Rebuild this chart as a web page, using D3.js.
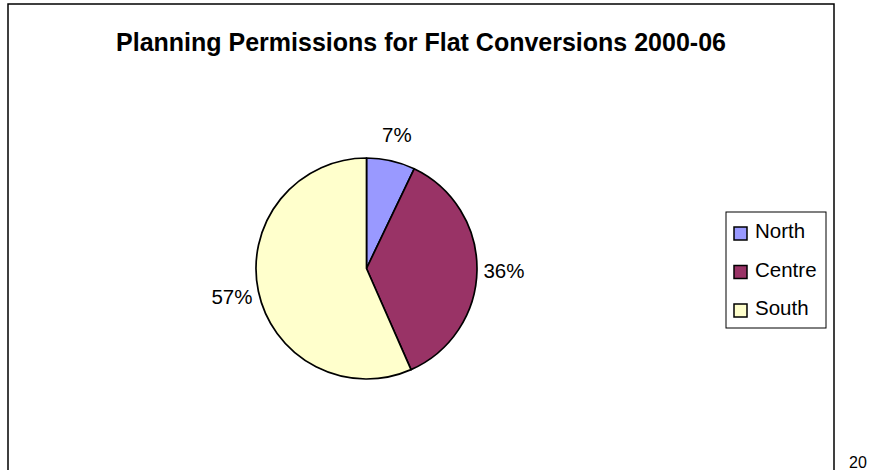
<!DOCTYPE html>
<html>
<head>
<meta charset="utf-8">
<script src="https://cdn.jsdelivr.net/npm/d3@7"></script>
<style>
  body { margin: 0; background: #fff; }
  text { font-family: "Liberation Sans", Arial, sans-serif; fill: #000; }
</style>
</head>
<body>
<script>
const width = 870,
  height = 470;

const regions = ["North", "Centre", "South"];
const shares = [7.1, 36.3, 56.6];
const colours = ["#9999ff", "#993366", "#ffffcc"];

const svg = d3
  .select("body")
  .append("svg")
  .attr("width", width)
  .attr("height", height);

// chart area border (bottom runs off the page)
svg
  .append("rect")
  .attr("x", 8)
  .attr("y", 4)
  .attr("width", 826)
  .attr("height", 480)
  .attr("fill", "#fff")
  .attr("stroke", "#000")
  .attr("stroke-width", 1.5);

svg
  .append("text")
  .attr("x", 421)
  .attr("y", 51)
  .attr("text-anchor", "middle")
  .style("font-weight", "bold")
  .style("font-size", "25px")
  .text("Planning Permissions for Flat Conversions 2000-06");

const data = regions.map((r, i) => ({ region: r, value: shares[i] }));
const total = d3.sum(shares);

const color = d3.scaleOrdinal().domain(regions).range(colours);

const pie = d3
  .pie()
  .value((d) => d.value)
  .sort(null);

const radius = 110.5;
const arc = d3.arc().innerRadius(0).outerRadius(radius);
// labels sit just outside the pie
const labelArc = d3.arc().innerRadius(radius + 27).outerRadius(radius + 27);

const g = svg.append("g").attr("transform", "translate(366.5,268.5)");

const arcs = pie(data);

g.selectAll("path")
  .data(arcs)
  .join("path")
  .attr("d", arc)
  .attr("fill", (d) => color(d.data.region))
  .attr("stroke", "#000")
  .attr("stroke-width", 1.7)
  .attr("stroke-linejoin", "round");

g.selectAll("text.lbl")
  .data(arcs)
  .join("text")
  .attr("class", "lbl")
  .attr("transform", (d) => `translate(${labelArc.centroid(d)})`)
  .attr("text-anchor", "middle")
  .attr("dy", "0.35em")
  .style("font-size", "20.5px")
  .text((d) => Math.round((d.data.value / total) * 100) + "%");

// legend
const legend = svg.append("g").attr("transform", "translate(726,212)");
legend
  .append("rect")
  .attr("width", 100)
  .attr("height", 116)
  .attr("fill", "#fff")
  .attr("stroke", "#000")
  .attr("stroke-width", 1);

// baselines of the legend rows
const rowY = d3.scalePoint().domain(regions).range([26, 103]);

const rows = legend
  .selectAll("g.row")
  .data(regions)
  .join("g")
  .attr("class", "row")
  .attr("transform", (d) => `translate(8,${rowY(d)})`);

rows
  .append("rect")
  .attr("x", 0)
  .attr("y", -11)
  .attr("width", 13)
  .attr("height", 13)
  .attr("fill", (d) => color(d))
  .attr("stroke", "#000")
  .attr("stroke-width", 1.5);

rows
  .append("text")
  .attr("x", 21)
  .style("font-size", "20.5px")
  .text((d) => d);

// stray page number at the bottom right
svg
  .append("text")
  .attr("x", 849)
  .attr("y", 468)
  .style("font-size", "16px")
  .text("20");
</script>
</body>
</html>
